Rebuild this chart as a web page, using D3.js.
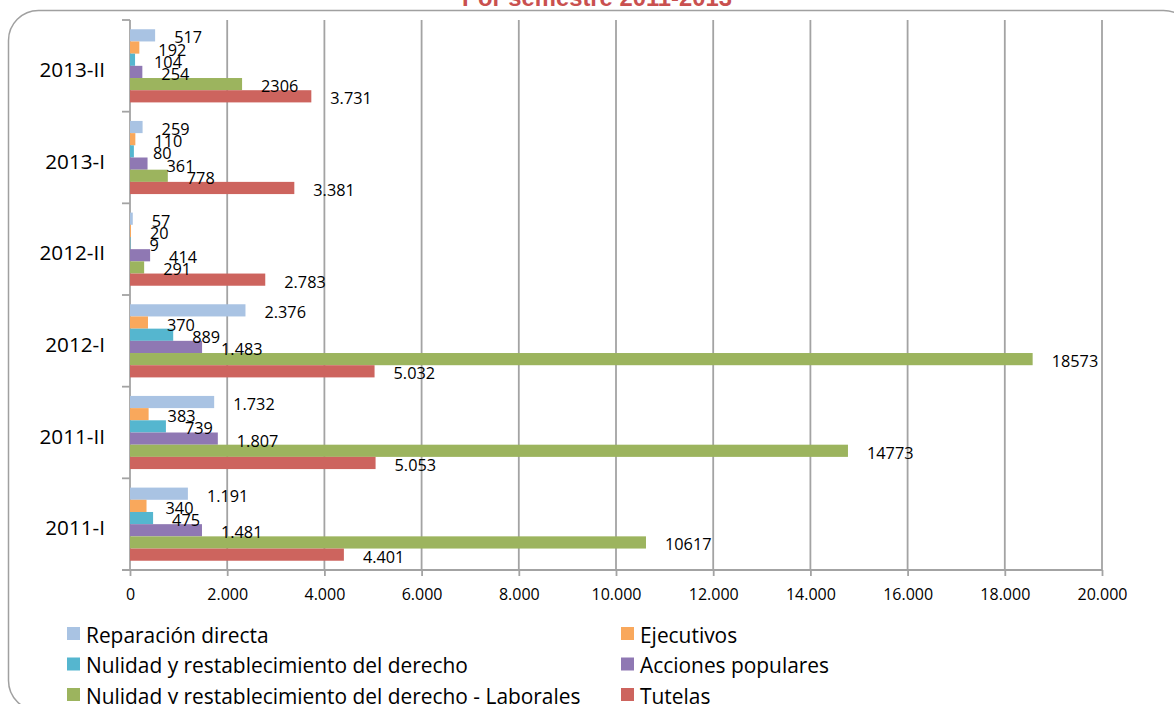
<!DOCTYPE html>
<html>
<head>
<meta charset="utf-8">
<script src="https://cdn.jsdelivr.net/npm/d3@7"></script>
<style>
  html, body { margin: 0; padding: 0; background: #fff; }
  svg { display: block; }
  text { font-family: "Open Sans", "Noto Sans", sans-serif; fill: #000; }
</style>
</head>
<body>
<svg id="chart" width="1174" height="704"></svg>
<script>
// Semesters, listed top to bottom as drawn
const semesters = ["2013-II", "2013-I", "2012-II", "2012-I", "2011-II", "2011-I"];

// Process types (series), listed in bar order inside each group
const seriesNames = [
  "Reparación directa",
  "Ejecutivos",
  "Nulidad y restablecimiento del derecho",
  "Acciones populares",
  "Nulidad y restablecimiento del derecho - Laborales",
  "Tutelas"
];
const seriesColors = ["#a9c3e3", "#f9a85c", "#55b6cf", "#8f78b3", "#9cb45e", "#cd645e"];

// Values per series, aligned with `semesters`
const reparacionDirecta = [517, 259, 57, 2376, 1732, 1191];
const ejecutivos        = [192, 110, 20, 370, 383, 340];
const nulidad           = [104, 80, 9, 889, 739, 475];
const accionesPopulares = [254, 361, 414, 1483, 1807, 1481];
const nulidadLaborales  = [2306, 778, 291, 18573, 14773, 10617];
const tutelas           = [3731, 3381, 2783, 5032, 5053, 4401];
const seriesValues = [reparacionDirecta, ejecutivos, nulidad, accionesPopulares, nulidadLaborales, tutelas];

// Axis ticks
const xTicks = [0, 2000, 4000, 6000, 8000, 10000, 12000, 14000, 16000, 18000, 20000];

const titleText = "Por semestre 2011-2013";

// Number formats: dotted thousands for most series, plain integers for the labour series
const es = d3.formatLocale({ decimal: ",", thousands: ".", grouping: [3], currency: ["$", ""] });
const fmtDot = es.format(",d");
const fmtPlain = d3.format("d");
const labelFormat = i => (i === 4 ? fmtPlain : fmtDot);

const svg = d3.select("#chart");

// Outer rounded frame
svg.append("rect")
  .attr("x", 8.5).attr("y", 10.5)
  .attr("width", 1185).attr("height", 700)
  .attr("rx", 30).attr("ry", 30)
  .attr("fill", "#fff")
  .attr("stroke", "#a0a0a0")
  .attr("stroke-width", 1.5);

// Title (sits partly above the frame)
svg.append("text")
  .attr("x", 597).attr("y", 6)
  .attr("text-anchor", "middle")
  .style("font-family", "'Liberation Sans', Arial, sans-serif")
  .style("font-weight", "bold")
  .style("font-size", "23.8px")
  .style("fill", "#c9504f")
  .text(titleText);

const plot = { left: 130, right: 1102, top: 20, bottom: 570 };

const x = d3.scaleLinear().domain([0, 20000]).range([plot.left, plot.right]);
const y = d3.scaleBand().domain(semesters).range([plot.top, plot.bottom]);
const yInner = d3.scaleBand().domain(d3.range(seriesNames.length))
  .range([0, y.bandwidth()]).paddingInner(0).paddingOuter(0.76);

// Vertical gridlines
svg.append("g").selectAll("line")
  .data(xTicks.filter(t => t > 0))
  .join("line")
  .attr("x1", d => x(d)).attr("x2", d => x(d))
  .attr("y1", plot.top).attr("y2", plot.bottom)
  .attr("stroke", "#a3a3a3").attr("stroke-width", 1.8);

// Bottom axis
const xAxis = d3.axisBottom(x).tickValues(xTicks).tickSize(6).tickSizeOuter(0)
  .tickFormat(d => fmtDot(d));
const gx = svg.append("g").attr("transform", `translate(0,${plot.bottom})`).call(xAxis);
gx.select(".domain").attr("stroke", "#a3a3a3").attr("stroke-width", 1.8)
  .attr("d", `M${plot.left - 8},0H${plot.right}`);
gx.selectAll(".tick line").attr("stroke", "#a3a3a3").attr("stroke-width", 1.8);
gx.selectAll(".tick text")
  .attr("y", 19)
  .style("font-family", "'Open Sans', sans-serif")
  .style("font-size", "16px").attr("fill", "#000");

// Left axis: boundaries between semesters carry the tick marks
const yBoundaries = semesters.map(s => y(s)).concat([plot.bottom]);
svg.append("line")
  .attr("x1", plot.left).attr("x2", plot.left)
  .attr("y1", plot.top).attr("y2", plot.bottom)
  .attr("stroke", "#a3a3a3").attr("stroke-width", 1.8);
svg.append("g").selectAll("line")
  .data(yBoundaries)
  .join("line")
  .attr("x1", plot.left - 8).attr("x2", plot.left)
  .attr("y1", d => d).attr("y2", d => d)
  .attr("stroke", "#a3a3a3").attr("stroke-width", 1.8);

// Semester labels
svg.append("g").selectAll("text")
  .data(semesters)
  .join("text")
  .attr("x", 105)
  .attr("y", d => y(d) + y.bandwidth() / 2 + 3)
  .attr("text-anchor", "end")
  .attr("dominant-baseline", "central")
  .style("font-size", "20.7px")
  .text(d => d);

// Bars and value labels
const barData = [];
semesters.forEach((s, ci) => {
  seriesValues.forEach((vals, si) => {
    barData.push({ semester: s, series: si, value: vals[ci] });
  });
});

const bars = svg.append("g");
bars.selectAll("rect")
  .data(barData)
  .join("rect")
  .attr("x", x(0))
  .attr("y", d => y(d.semester) + yInner(d.series))
  .attr("width", d => x(d.value) - x(0))
  .attr("height", yInner.bandwidth())
  .attr("fill", d => seriesColors[d.series]);

svg.append("g").selectAll("text")
  .data(barData)
  .join("text")
  .attr("x", d => x(d.value) + 19)
  .attr("y", d => y(d.semester) + yInner(d.series) + yInner.bandwidth() / 2 + 2)
  .attr("dominant-baseline", "central")
  .style("font-size", "16.3px")
  .text(d => labelFormat(d.series)(d.value));

// Legend, two columns
const legendPos = [
  [67, 627], [621, 627],
  [67, 657.5], [621, 657.5],
  [67, 688], [621, 688]
];
const legend = svg.append("g").selectAll("g")
  .data(seriesNames)
  .join("g")
  .attr("transform", (d, i) => `translate(${legendPos[i][0]},${legendPos[i][1]})`);
legend.append("rect")
  .attr("width", 13).attr("height", 13)
  .attr("fill", (d, i) => seriesColors[i]);
legend.append("text")
  .attr("x", 19).attr("y", 7.5)
  .attr("dominant-baseline", "central")
  .style("font-size", "20.9px")
  .text(d => d);
</script>
</body>
</html>
